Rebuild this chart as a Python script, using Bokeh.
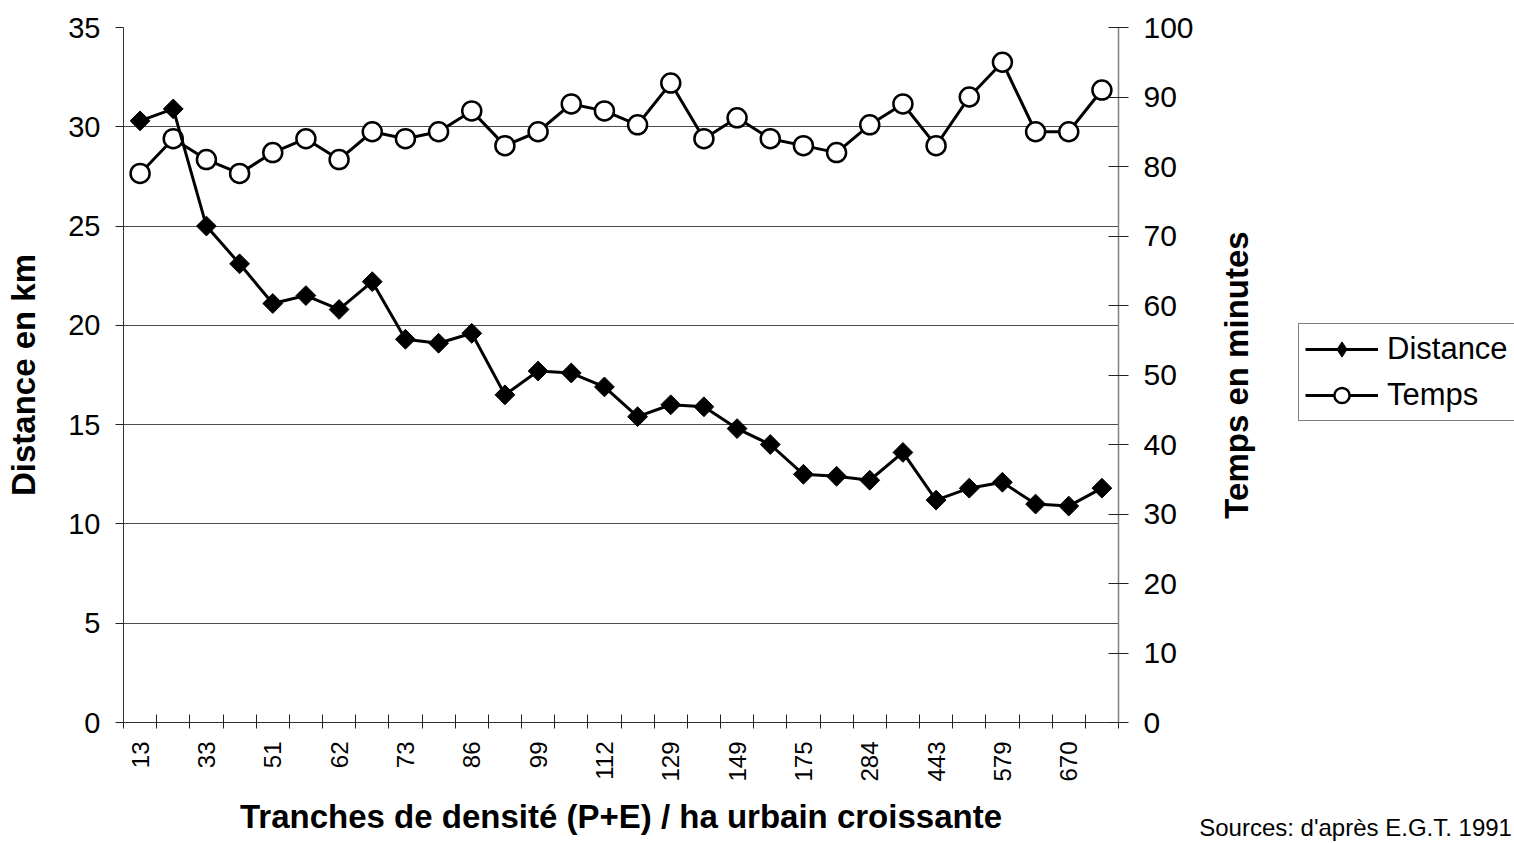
import math
from bokeh.plotting import figure
from bokeh.layouts import row
from bokeh.models import (Range1d, LinearAxis, FixedTicker, SingleIntervalTicker,
                          Legend, LegendItem, ColumnDataSource)
from bokeh.embed import file_html
from bokeh.resources import INLINE

# ---- data -------------------------------------------------------------
tick_labels = ["13", "33", "51", "62", "73", "86", "99", "112", "129", "149",
               "175", "284", "443", "579", "670"]
distance_km = [30.3, 30.9, 25.0, 23.1, 21.1, 21.5, 20.8, 22.2, 19.3, 19.1,
               19.6, 16.5, 17.7, 17.6, 16.9, 15.4, 16.0, 15.9, 14.8, 14.0,
               12.5, 12.4, 12.2, 13.6, 11.2, 11.8, 12.1, 11.0, 10.9, 11.8]
temps_min = [79, 84, 81, 79, 82, 84, 81, 85, 84, 85,
             88, 83, 85, 89, 88, 86, 92, 84, 87, 84,
             83, 82, 86, 89, 83, 90, 95, 85, 85, 91]
source_note = "Sources: d'après E.G.T. 1991"
right_title = "Temps en minutes"

n = len(distance_km)
xs = list(range(n))
src = ColumnDataSource(dict(x=xs, d=distance_km, t=temps_min))

FONT = "Liberation Sans"

# =======================================================================
# main chart
# =======================================================================
p = figure(width=1196, height=843, output_backend="svg", toolbar_location=None,
           x_range=Range1d(-0.5, n - 0.5), y_range=Range1d(0, 35),
           min_border_left=123, min_border_right=78, min_border_top=27,
           min_border_bottom=115)
p.outline_line_color = None
p.background_fill_color = "white"
p.border_fill_color = "white"
p.extra_y_ranges = {"temps": Range1d(0, 100)}

xa = p.xaxis[0]
major = [2 * i for i in range(len(tick_labels))]
xa.ticker = FixedTicker(ticks=major, minor_ticks=[i - 0.5 for i in range(n + 1)])
xa.major_label_overrides = {float(2 * i): lab for i, lab in enumerate(tick_labels)}
xa.major_label_orientation = math.pi / 2
xa.major_tick_line_color = None
xa.major_tick_out = 6
xa.major_tick_in = 0
xa.minor_tick_out = 6
xa.minor_tick_in = 8
xa.minor_tick_line_color = "#222222"
xa.axis_line_color = "#333333"
xa.major_label_standoff = 13
xa.major_label_text_font = FONT
xa.major_label_text_font_size = "24px"
xa.major_label_text_color = "black"
xa.axis_label = "Tranches de densité (P+E) / ha urbain croissante"
xa.axis_label_text_font = FONT
xa.axis_label_text_font_size = "33px"
xa.axis_label_text_font_style = "bold"
xa.axis_label_text_color = "black"
xa.axis_label_standoff = 13
p.xgrid.visible = False

ya = p.yaxis[0]
ya.ticker = SingleIntervalTicker(interval=5, num_minor_ticks=0)
ya.major_tick_out = 8
ya.major_tick_in = 0
ya.major_tick_line_color = "#222222"
ya.minor_tick_line_color = None
ya.axis_line_color = "#333333"
ya.major_label_standoff = 15
ya.major_label_text_font = FONT
ya.major_label_text_font_size = "29px"
ya.major_label_text_color = "black"
ya.axis_label = "Distance en km"
ya.axis_label_text_font = FONT
ya.axis_label_text_font_size = "33px"
ya.axis_label_text_font_style = "bold"
ya.axis_label_text_color = "black"
ya.axis_label_standoff = 23
p.ygrid.ticker = SingleIntervalTicker(interval=5, num_minor_ticks=0)
p.ygrid.grid_line_color = "#4d4d4d"
p.ygrid.grid_line_width = 1

ra = LinearAxis(y_range_name="temps",
                ticker=SingleIntervalTicker(interval=10, num_minor_ticks=0))
ra.major_tick_out = 10
ra.major_tick_in = 10
ra.major_tick_line_color = "#222222"
ra.minor_tick_line_color = None
ra.axis_line_color = "#808080"
ra.axis_line_width = 1.5
ra.major_label_standoff = 15
ra.major_label_text_font = FONT
ra.major_label_text_font_size = "30px"
ra.major_label_text_color = "black"
p.add_layout(ra, "right")

p.line("x", "t", source=src, y_range_name="temps", line_color="black", line_width=3)
p.scatter("x", "t", source=src, y_range_name="temps", marker="circle",
          size=19, fill_color="white", line_color="black", line_width=2.5)
p.line("x", "d", source=src, line_color="black", line_width=3)
p.scatter("x", "d", source=src, marker="square", angle=math.pi / 4,
          size=14, fill_color="black", line_color="black", line_width=1)

# =======================================================================
# right band: axis title, legend, source note
# =======================================================================
q = figure(width=318, height=843, output_backend="svg", toolbar_location=None,
           x_range=Range1d(0, 1), y_range=Range1d(0, 1),
           min_border_left=60, min_border_right=0, min_border_top=27,
           min_border_bottom=118)
q.outline_line_color = None
q.background_fill_color = "white"
q.border_fill_color = "white"
q.grid.visible = False

qy = q.yaxis[0]
qy.ticker = FixedTicker(ticks=[])
qy.major_tick_line_color = None
qy.minor_tick_line_color = None
qy.axis_line_color = None
qy.major_tick_out = 0
qy.major_tick_in = 0
qy.major_label_standoff = 0
qy.axis_label = right_title
qy.axis_label_text_font = FONT
qy.axis_label_text_font_size = "33px"
qy.axis_label_text_font_style = "bold"
qy.axis_label_text_color = "black"
qy.axis_label_standoff = 2

NOTE_AT = 0.384
qx = q.xaxis[0]
qx.ticker = FixedTicker(ticks=[NOTE_AT])
qx.major_label_overrides = {NOTE_AT: source_note}
qx.major_label_orientation = "horizontal"
qx.major_tick_line_color = None
qx.minor_tick_line_color = None
qx.axis_line_color = None
qx.major_tick_out = 0
qx.major_tick_in = 0
qx.major_label_standoff = 91
qx.major_label_text_font = FONT
qx.major_label_text_font_size = "24px"
qx.major_label_text_color = "black"

# legend glyphs (kept outside the visible range of this band)
l_d = q.line(x=[-10, -9], y=[-10, -10], line_color="black", line_width=3)
m_d = q.scatter(x=[-10], y=[-10], marker="diamond", size=16,
                fill_color="black", line_color="black", line_width=1)
l_t = q.line(x=[-10, -9], y=[-10, -10], line_color="black", line_width=3)
m_t = q.scatter(x=[-10], y=[-10], marker="circle", size=14,
                fill_color="white", line_color="black", line_width=2.5)

legend = Legend(items=[LegendItem(label="Distance", renderers=[l_d, m_d]),
                       LegendItem(label="Temps", renderers=[l_t, m_t])],
                location=(42, 301))
legend.border_line_color = "black"
legend.border_line_width = 1
legend.background_fill_color = "white"
legend.background_fill_alpha = 1
legend.label_text_font = FONT
legend.label_text_font_size = "31px"
legend.label_text_color = "black"
legend.glyph_width = 73
legend.glyph_height = 38
legend.label_height = 38
legend.label_width = 140
legend.label_standoff = 9
legend.spacing = 8
legend.padding = 6
legend.margin = 0
q.add_layout(legend, "center")

layout = row(p, q)
layout.spacing = 0

open("out.html", "w").write(file_html(layout, INLINE))
